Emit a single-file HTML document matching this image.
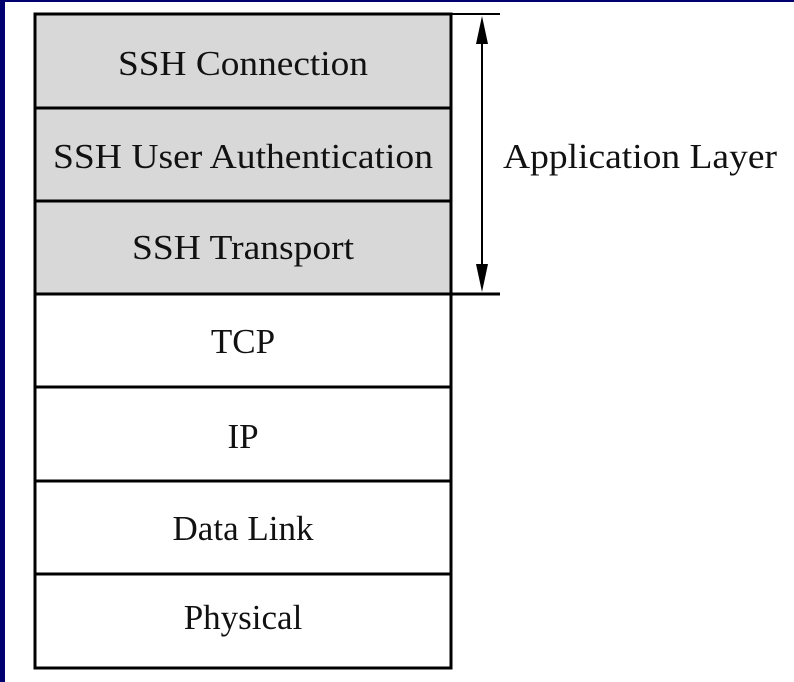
<!DOCTYPE html>
<html><head><meta charset="utf-8"><style>
html,body{margin:0;padding:0;background:#fff;}
</style></head><body>
<svg width="794" height="682" viewBox="0 0 794 682" xmlns="http://www.w3.org/2000/svg" style="display:block">
<rect x="0" y="0" width="794" height="682" fill="#fff"/>
<rect x="0" y="0" width="5" height="682" fill="#000070"/>
<rect x="0" y="0" width="794" height="2" fill="#000070"/>
<rect x="34" y="14" width="418" height="281" fill="#d8d8d8"/>
<g stroke="#000" stroke-width="3" fill="none">
<rect x="35" y="14" width="416" height="654"/>
<line x1="35" y1="108" x2="451" y2="108"/>
<line x1="35" y1="201" x2="451" y2="201"/>
<line x1="35" y1="294" x2="500" y2="294"/>
<line x1="35" y1="387" x2="451" y2="387"/>
<line x1="35" y1="481" x2="451" y2="481"/>
<line x1="35" y1="574" x2="451" y2="574"/>
<line x1="451" y1="14" x2="500" y2="14" stroke-width="2"/>
<line x1="482" y1="30" x2="482" y2="278" stroke-width="2"/>
</g>
<polygon points="482,16 476,44 488,44" fill="#000"/>
<polygon points="482,292 476,264 488,264" fill="#000"/>
<g font-family="Liberation Serif, serif" font-size="35" fill="#111" text-anchor="middle">
<text x="243" y="75" textLength="250" lengthAdjust="spacingAndGlyphs">SSH Connection</text>
<text x="243" y="168" textLength="380" lengthAdjust="spacingAndGlyphs">SSH User Authentication</text>
<text x="243" y="259" textLength="222" lengthAdjust="spacingAndGlyphs">SSH Transport</text>
<text x="243" y="353">TCP</text>
<text x="243" y="448">IP</text>
<text x="243" y="540">Data Link</text>
<text x="243" y="629">Physical</text>
<text x="640" y="168" textLength="274" lengthAdjust="spacingAndGlyphs">Application Layer</text>
</g>
</svg>
</body></html>
